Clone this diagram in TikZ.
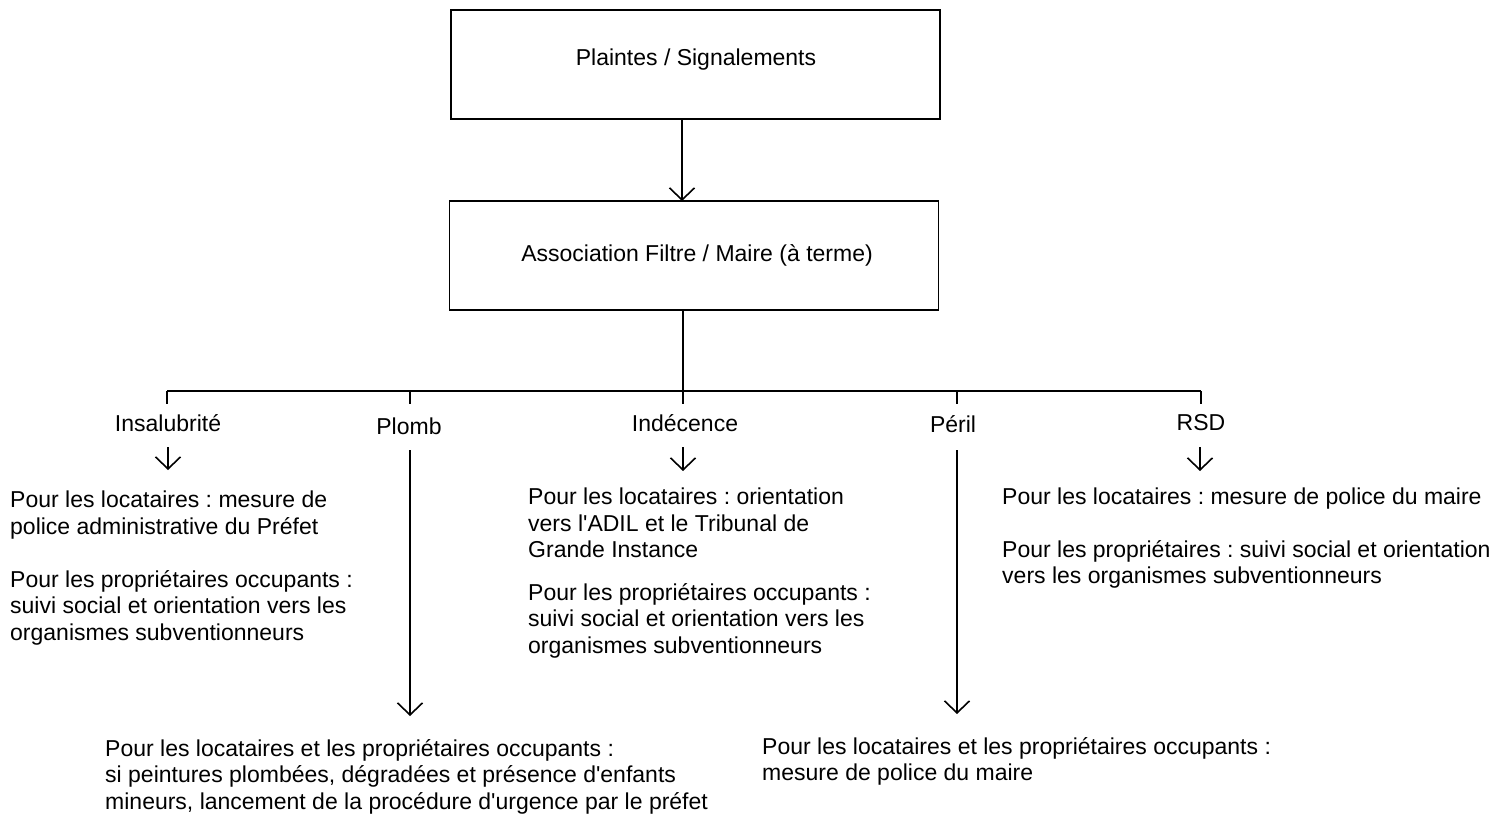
\documentclass[tikz,border=0pt]{standalone}
\usepackage{fontspec}
\setmainfont{Liberation Sans}
\usetikzlibrary{arrows.meta}
\frenchspacing
\tikzset{
  box/.style={draw, line width=1.6pt, minimum width=489pt, minimum height=109pt, inner sep=0pt},
  lbl/.style={inner sep=0pt, font=\fontsize{23}{26.5}\selectfont},
  para/.style={inner sep=0pt, anchor=north west, align=left, font=\fontsize{23}{26.5}\selectfont},
  ln/.style={line width=1.6pt},
  arr/.style={line width=1.6pt, -{Straight Barb[length=12pt, width=25pt, line width=1.6pt]}}
}
\begin{document}
\begin{tikzpicture}[x=1pt,y=-1pt]
\useasboundingbox (0,0) rectangle (1496,814);
% boxes
\node[box] (b1) at (695.5,64.5) {};
\node[lbl] (b1t) at (696,60) {Plaintes / Signalements};
\node[box] (b2) at (694,255.5) {};
\node[lbl] (b2t) at (697,255) {Association Filtre / Maire (à terme)};
\coordinate (a1) at (682,119);
\coordinate (a2) at (682,201);
\draw[arr] (a1) -- (a2);
% tree
\coordinate (t0) at (683,310);
\coordinate (j) at (683,391);
\coordinate (jl) at (167,391);
\coordinate (jr) at (1201,391);
\draw[ln] (t0) -- (j);
\draw[ln] (jl) -- (jr);
% labels
\node[lbl] (ins) at (168,423) {Insalubrité};
\node[lbl] (plo) at (409,426) {Plomb};
\node[lbl] (ind) at (685,423) {Indécence};
\node[lbl] (per) at (953,424) {Péril};
\node[lbl] (rsd) at (1201,423) {RSD};
% ticks
\coordinate (k1) at (167,391); \coordinate (k1e) at (167,404);
\coordinate (k2) at (410,391); \coordinate (k2e) at (410,404);
\coordinate (k3) at (683,391); \coordinate (k3e) at (683,404);
\coordinate (k4) at (957,391); \coordinate (k4e) at (957,404);
\coordinate (k5) at (1201,391); \coordinate (k5e) at (1201,404);
\draw[ln] (k1) -- (k1e);
\draw[ln] (k2) -- (k2e);
\draw[ln] (k3) -- (k3e);
\draw[ln] (k4) -- (k4e);
\draw[ln] (k5) -- (k5e);
% paragraphs
\node[para] (insA) at (10,491) {Pour les locataires : mesure de\\police administrative du Préfet};
\node[para] (insB) at (10,570) {Pour les propriétaires occupants :\\suivi social et orientation vers les\\organismes subventionneurs};
\node[para] (indA) at (528,488) {Pour les locataires : orientation\\vers l\textquotesingle ADIL et le Tribunal de\\Grande Instance};
\node[para] (indB) at (528,583) {Pour les propriétaires occupants :\\suivi social et orientation vers les\\organismes subventionneurs};
\node[para] (rsdA) at (1002,488) {Pour les locataires : mesure de police du maire};
\node[para] (rsdB) at (1002,540) {Pour les propriétaires : suivi social et orientation\\vers les organismes subventionneurs};
\node[para] (ploA) at (105,739) {Pour les locataires et les propriétaires occupants :\\si peintures plombées, dégradées et présence d\textquotesingle enfants\\mineurs, lancement de la procédure d\textquotesingle urgence par le préfet};
\node[para] (perA) at (762,737) {Pour les locataires et les propriétaires occupants :\\mesure de police du maire};
% arrows
\coordinate (s1) at (168,447); \coordinate (e1) at (168,470);
\coordinate (s2) at (410,450); \coordinate (e2) at (410,716);
\coordinate (s3) at (683,447); \coordinate (e3) at (683,471);
\coordinate (s4) at (957,450); \coordinate (e4) at (957,714);
\coordinate (s5) at (1200,447); \coordinate (e5) at (1200,471);
\draw[arr] (s1) -- (e1);
\draw[arr] (s2) -- (e2);
\draw[arr] (s3) -- (e3);
\draw[arr] (s4) -- (e4);
\draw[arr] (s5) -- (e5);
\end{tikzpicture}
\end{document}
